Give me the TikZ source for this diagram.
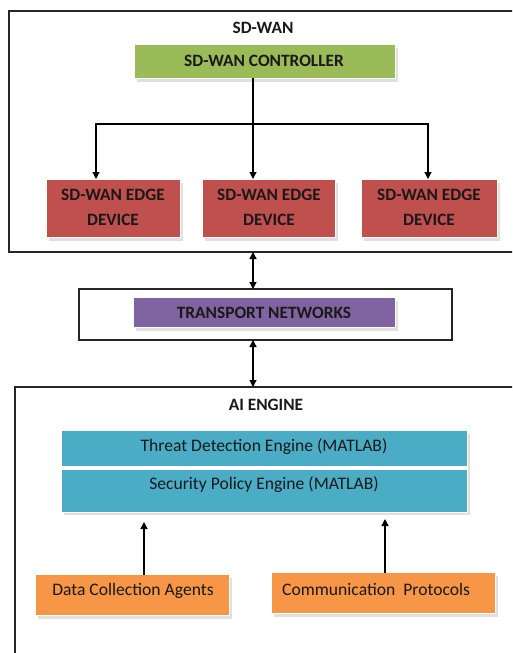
\documentclass[tikz,border=0pt]{standalone}
\usepackage{fontspec}
\setmainfont{Carlito}
\usetikzlibrary{arrows.meta}
\definecolor{ctrlgreen}{HTML}{9BBB59}
\definecolor{edgered}{HTML}{C0504D}
\definecolor{transpurple}{HTML}{8064A2}
\definecolor{aiblue}{HTML}{4BACC6}
\definecolor{agentorange}{HTML}{F79646}
\definecolor{frameline}{HTML}{262626}
\tikzset{
  frame/.style={draw=frameline, line width=1.1pt, fill=none},
  capslabel/.style={font=\fontsize{17.3}{20}\selectfont\bfseries, text=black!90, inner sep=0pt},
  plainlabel/.style={font=\fontsize{17.6}{20}\selectfont, text=black!90, inner sep=0pt},
  link/.style={line width=1.3pt, -{Triangle[length=7pt,width=7pt]}},
  duplex/.style={line width=1.3pt, {Triangle[length=7pt,width=7pt]}-{Triangle[length=7pt,width=7pt]}},
  plain/.style={line width=1.3pt},
  shade/.style={fill=black!12, draw=none}
}
\newcommand{\boxat}[6]{%
  % #1 name, #2 left, #3 top, #4 right, #5 bottom, #6 fill colour
  \fill[shade] (#2+2,#3+3) rectangle (#4+3,#5+4);
  \fill[white] (#2-1,#3-1) rectangle (#4+1,#5+1);
  \fill[#6] (#2,#3) rectangle (#4,#5);
  \coordinate (#1) at ({(#2+#4)/2},{(#3+#5)/2});
}
\begin{document}
\begin{tikzpicture}[x=1pt,y=-1pt]
\useasboundingbox (0,0) rectangle (512,653);
\clip (0,0) rectangle (512,653);

% ---- SD-WAN frame ----
\draw[frame] (9,11) rectangle (520,252);
\node[capslabel] (sdwan) at (263,28) {SD-WAN};

\boxat{ctrl}{135}{45}{395}{78}{ctrlgreen}
\node[capslabel] (ctrltxt) at (264,61) {SD-WAN CONTROLLER};

\boxat{e1}{47}{180}{180}{237}{edgered}
\boxat{e2}{203}{180}{335}{237}{edgered}
\boxat{e3}{362}{180}{497}{237}{edgered}
\foreach \n/\x in {e1/113, e2/269, e3/429}{
  \node[capslabel] (\n top) at (\x,195) {SD-WAN EDGE};
  \node[capslabel] (\n bot) at (\x,220) {DEVICE};
}

\coordinate (split) at (253,124);
\draw[plain] (253,78) -- (split);
\draw[link] (split) -| (96,179);
\draw[link] (split) -- (253,179);
\draw[link] (split) -| (428,179);

% ---- transport ----
\draw[frame] (79,289) rectangle (452,340);
\boxat{tn}{134}{298}{395}{327}{transpurple}
\node[capslabel] (tntxt) at (264,313) {TRANSPORT NETWORKS};

\coordinate (sdwanbot) at (253,252);
\coordinate (tntop) at (253,289);
\coordinate (tnbot) at (253,340);
\coordinate (aitop) at (253,387);
\draw[duplex] (sdwanbot) -- (tntop);
\draw[duplex] (tnbot) -- (aitop);

% ---- AI engine frame ----
\draw[frame] (15,387) rectangle (520,660);
\node[capslabel] (aititle) at (266,405) {AI ENGINE};

\fill[shade] (64,434) rectangle (470,515);
\fill[white] (61,430) rectangle (468,513);
\fill[aiblue] (62,431) rectangle (467,466);
\fill[aiblue] (62,470) rectangle (467,512);
\node[plainlabel] (tdetxt) at (264,447) {Threat Detection Engine (MATLAB)};
\node[plainlabel] (spetxt) at (264,485) {Security Policy Engine (MATLAB)};

\boxat{dca}{36}{575}{229}{615}{agentorange}
\boxat{cp}{272}{573}{495}{613}{agentorange}
\node[plainlabel] (dcatxt) at (133,591) {Data Collection Agents};
\node[plainlabel, anchor=west] (cptxt) at (282,589) {Communication\ \ Protocols};

\draw[link] (144,575) -- (144,522);
\draw[link] (385,573) -- (385,519);
\end{tikzpicture}
\end{document}
